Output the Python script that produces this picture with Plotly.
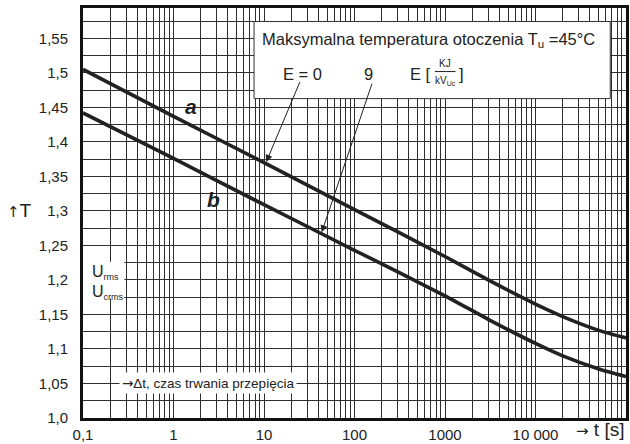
import plotly.graph_objects as go
import math

# ---- data ----
t_values = [0.1, 1, 10, 100, 1000, 3000, 10000, 20000, 50000, 100000]
curve_a = [1.505, 1.437, 1.370, 1.302, 1.234, 1.200, 1.165, 1.147, 1.127, 1.116]
curve_b = [1.442, 1.376, 1.309, 1.243, 1.177, 1.143, 1.108, 1.090, 1.071, 1.060]

x_tickvals = [0.1, 1, 10, 100, 1000, 10000]
x_ticktext = ["0,1", "1", "10", "100", "1000", "10 000"]
y_tickvals = [1.0, 1.05, 1.1, 1.15, 1.2, 1.25, 1.3, 1.35, 1.4, 1.45, 1.5, 1.55]
y_ticktext = ["1,0", "1,05", "1,1", "1,15", "1,2", "1,25", "1,3", "1,35", "1,4", "1,45", "1,5", "1,55"]

FONT = "Liberation Sans, Arial, Helvetica, sans-serif"
ARROWFONT = "font-family:DejaVu Sans"
INK = "#222222"
GRID = "#2e2e2e"

x_minor = [m * 10 ** k for k in range(-1, 5) for m in range(2, 10)]
y_minor = [1.025 + 0.05 * i for i in range(12)]

fig = go.Figure()
for name, vals in (("a", curve_a), ("b", curve_b)):
    fig.add_trace(go.Scatter(x=t_values, y=vals, mode="lines", name=name,
                             line=dict(color=INK, width=3.6, shape="spline", smoothing=0.6),
                             showlegend=False, hoverinfo="skip"))

fig.update_layout(
    width=630, height=444, autosize=False,
    margin=dict(l=83, r=1, t=8, b=24),
    paper_bgcolor="white", plot_bgcolor="white",
    font=dict(family=FONT, color=INK, size=15),
    showlegend=False,
)
fig.update_xaxes(
    type="log", range=[-1, 5],
    tickmode="array", tickvals=x_tickvals, ticktext=x_ticktext,
    ticks="outside", ticklen=1, tickcolor="rgba(0,0,0,0)",
    tickfont=dict(size=15, color=INK),
    showgrid=True, gridcolor=GRID, gridwidth=1,
    minor=dict(tickmode="array", tickvals=x_minor, showgrid=True, gridcolor=GRID, gridwidth=1, ticks=""),
    showline=True, linecolor="#111111", linewidth=3, mirror=True, zeroline=False,
)
fig.update_yaxes(
    range=[1.0, 1.594],
    tickmode="array", tickvals=y_tickvals, ticktext=y_ticktext,
    ticks="outside", ticklen=9, tickcolor="rgba(0,0,0,0)",
    tickfont=dict(size=15, color=INK),
    showgrid=True, gridcolor=GRID, gridwidth=1,
    minor=dict(tickmode="array", tickvals=y_minor, showgrid=True, gridcolor=GRID, gridwidth=1, ticks=""),
    showline=True, linecolor="#111111", linewidth=3, mirror=True, zeroline=False,
)

# white boxes covering the grid
fig.add_shape(type="rect", xref="paper", yref="paper", x0=0.315, x1=0.971, y0=0.779, y1=0.967,
              fillcolor="white", line=dict(color="#333333", width=1), layer="above")
fig.add_shape(type="rect", xref="paper", yref="paper", x0=0.0, x1=0.076, y0=0.291, y1=0.381,
              fillcolor="white", line=dict(width=0), layer="above")
# fraction bar of KJ / kV_Uc
fig.add_shape(type="line", xref="paper", yref="paper", x0=0.648, x1=0.686, y0=0.845, y1=0.845,
              line=dict(color=INK, width=1), layer="above")

ann = []
def txt(text, x, y, size=15, xanchor="center", **kw):
    d = dict(text=text, x=x, y=y, xref="paper", yref="paper", showarrow=False,
             xanchor=xanchor, yanchor="middle", font=dict(family=FONT, size=size, color=INK))
    d.update(kw)
    ann.append(d)

txt("Maksymalna temperatura otoczenia T<sub>u</sub> =45°C", 0.636, 0.922, size=16.5)
txt("E = 0", 0.405, 0.840, size=16.5)
txt("9", 0.525, 0.840, size=16.5)
txt("E [", 0.598, 0.840, size=16.5, xanchor="left")
txt("KJ", 0.667, 0.864, size=10)
txt("kV<sub>Uc</sub>", 0.667, 0.822, size=10)
txt("]", 0.688, 0.840, size=16.5, xanchor="left")
txt("U<sub><span style='font-size:9px'>rms</span></sub>", 0.012, 0.355, size=16, xanchor="left")
txt("U<sub><span style='font-size:9px'>crms</span></sub>", 0.012, 0.307, size=16, xanchor="left")
txt(f"<span style='{ARROWFONT}'>→</span>Δt, czas trwania przepięcia", 0.066, 0.086, size=13.5,
    xanchor="left", bgcolor="white", borderpad=2)
txt(f"<span style='{ARROWFONT};font-size:15px'>↑</span>T", -0.117, 0.505, size=19)
txt(f"<span style='{ARROWFONT};font-size:15px'>→</span> t [s]", 1.0, -0.027, size=19, xanchor="right")

# curve labels (data coords; x in log10 units)
ann.append(dict(text="<b><i>a</i></b>", x=math.log10(1.55), y=1.451, xref="x", yref="y",
                showarrow=False, font=dict(family=FONT, size=21, color=INK)))
ann.append(dict(text="<b><i>b</i></b>", x=math.log10(2.75), y=1.317, xref="x", yref="y",
                showarrow=False, font=dict(family=FONT, size=21, color=INK)))

# arrows from E labels to the curves
for (tip_t, tip_T, tail_t, tail_T) in ((10.6, 1.371, 25.3, 1.489), (43.4, 1.269, 158, 1.4865)):
    ann.append(dict(text="", x=math.log10(tip_t), y=tip_T, ax=math.log10(tail_t), ay=tail_T,
                    xref="x", yref="y", axref="x", ayref="y", showarrow=True,
                    arrowhead=2, arrowsize=1.4, arrowwidth=1, arrowcolor=INK, standoff=0))

fig.update_layout(annotations=ann)
fig.write_html("out.html", config={"displayModeBar": False},
               post_script="document.body.style.margin='0';document.body.style.padding='0';")
